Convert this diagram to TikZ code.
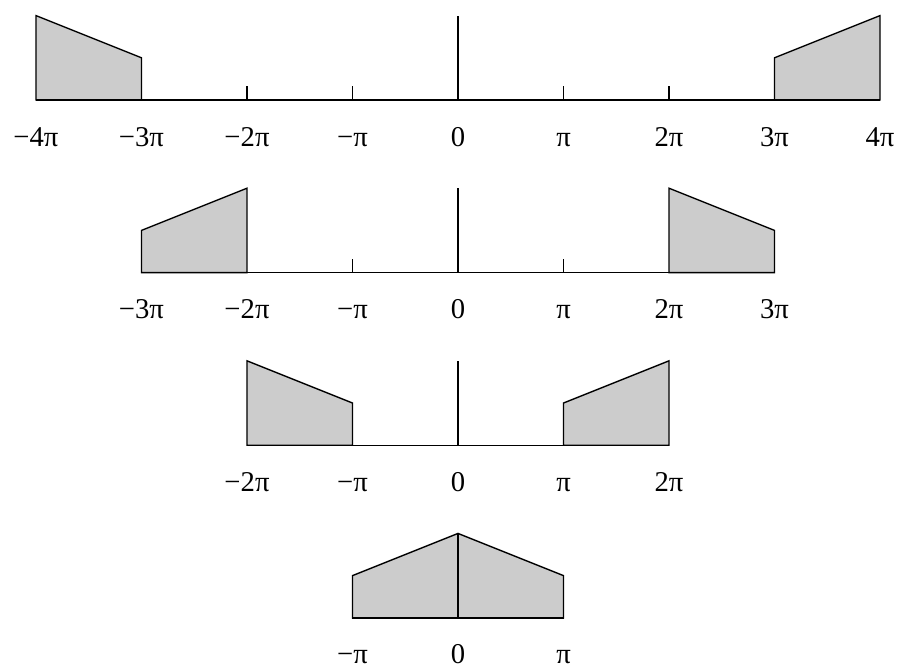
\documentclass[tikz,border=0pt]{standalone}
\usepackage{fontspec}
\setmainfont{Liberation Serif}
\usepackage{xcolor}
\usetikzlibrary{positioning}
\definecolor{bandgray}{RGB}{204, 204, 204}

\begin{document}
\begin{tikzpicture}[
    x=1.5cm, y=1.5cm,
    axisline/.style={line width=0.55pt, black},
    band/.style={draw=black, line width=0.55pt, fill=bandgray, line join=miter},
    tickmark/.style={line width=0.55pt},
    ticklabel/.style={anchor=base, inner sep=0pt, font=\fontsize{11.6}{13}\selectfont}
]
    \useasboundingbox (-4.341,0.948) rectangle (4.161,-5.384);

    % Row 1: -4pi .. 4pi
    \begin{scope}[yshift=0cm]
        \draw [band] (-4,0) -- (-4,0.8) -- (-3,0.4) -- (-3,0) -- cycle;
        \draw [band] (3,0) -- (3,0.4) -- (4,0.8) -- (4,0) -- cycle;
        \draw [axisline] (-4,0) -- (4,0);
        \draw [axisline] (0,0) -- (0,0.8);
        \foreach \x in {-2,-1,1,2}
            \draw [tickmark] (\x,0) -- (\x,0.13);
        \foreach \x/\t in {-4/−4π,-3/−3π,-2/−2π,-1/−π,0/0,1/π,2/2π,3/3π,4/4π}
            \node (ra\x) [ticklabel] at (\x,-0.436) {\t};
    \end{scope}

    % Row 2: -3pi .. 3pi
    \begin{scope}[yshift=-1.636*1.5cm]
        \draw [band] (-3,0) -- (-3,0.4) -- (-2,0.8) -- (-2,0) -- cycle;
        \draw [band] (2,0) -- (2,0.8) -- (3,0.4) -- (3,0) -- cycle;
        \draw [axisline] (-3,0) -- (3,0);
        \draw [axisline] (0,0) -- (0,0.8);
        \foreach \x in {-1,1}
            \draw [tickmark] (\x,0) -- (\x,0.13);
        \foreach \x/\t in {-3/−3π,-2/−2π,-1/−π,0/0,1/π,2/2π,3/3π}
            \node (rb\x) [ticklabel] at (\x,-0.436) {\t};
    \end{scope}

    % Row 3: -2pi .. 2pi
    \begin{scope}[yshift=-3.272*1.5cm]
        \draw [band] (-2,0) -- (-2,0.8) -- (-1,0.4) -- (-1,0) -- cycle;
        \draw [band] (1,0) -- (1,0.4) -- (2,0.8) -- (2,0) -- cycle;
        \draw [axisline] (-2,0) -- (2,0);
        \draw [axisline] (0,0) -- (0,0.8);
        \foreach \x/\t in {-2/−2π,-1/−π,0/0,1/π,2/2π}
            \node (rc\x) [ticklabel] at (\x,-0.436) {\t};
    \end{scope}

    % Row 4: -pi .. pi
    \begin{scope}[yshift=-4.908*1.5cm]
        \draw [band] (-1,0) -- (-1,0.4) -- (0,0.8) -- (1,0.4) -- (1,0) -- cycle;
        \draw [axisline] (-1,0) -- (1,0);
        \draw [axisline] (0,0) -- (0,0.8);
        \foreach \x/\t in {-1/−π,0/0,1/π}
            \node (rd\x) [ticklabel] at (\x,-0.436) {\t};
    \end{scope}

\end{tikzpicture}
\end{document}
